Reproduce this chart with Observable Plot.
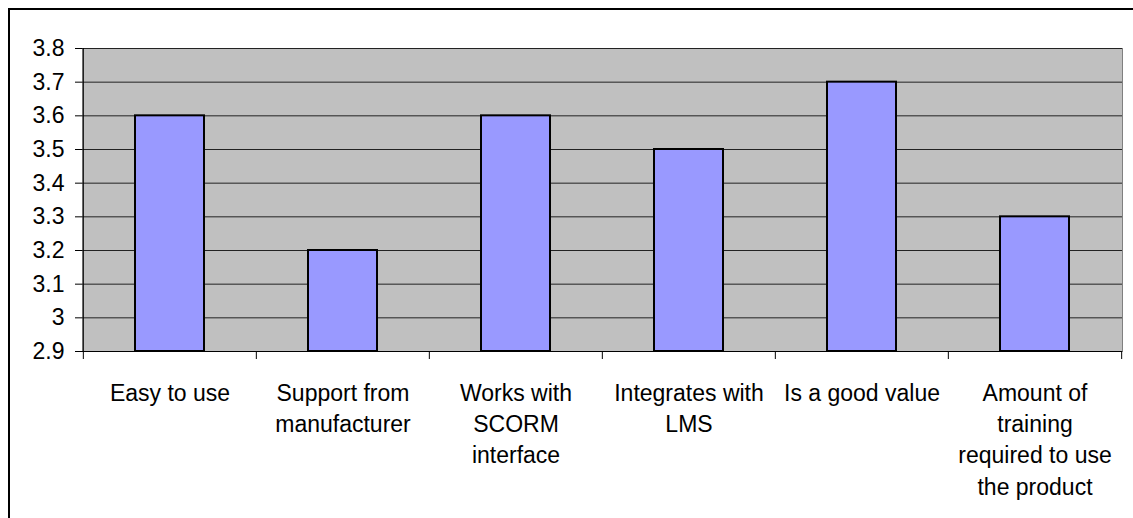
<!DOCTYPE html>
<html>
<head>
<meta charset="utf-8">
<script src="https://cdn.jsdelivr.net/npm/d3@7"></script>
<script src="https://cdn.jsdelivr.net/npm/@observablehq/plot@0.6"></script>
<style>
  html, body { margin: 0; padding: 0; background: #fff; }
  #wrap { position: relative; width: 1133px; height: 518px; overflow: hidden; }
  #border { position: absolute; left: 8px; top: 8px; right: -20px; bottom: -20px;
            border-left: 2px solid #000; border-top: 2px solid #000; pointer-events: none; }
  #chart svg { display: block; }
</style>
</head>
<body>
<div id="wrap">
  <div id="chart"></div>
  <div id="border"></div>
</div>
<script>
// Survey ratings per product attribute
const categories = [
  "Easy to use",
  "Support from manufacturer",
  "Works with SCORM interface",
  "Integrates with LMS",
  "Is a good value",
  "Amount of training required to use the product"
];
const categoryLabels = [
  "Easy to use",
  "Support from\nmanufacturer",
  "Works with\nSCORM\ninterface",
  "Integrates with\nLMS",
  "Is a good value",
  "Amount of\ntraining\nrequired to use\nthe product"
];
const scores = [3.6, 3.2, 3.6, 3.5, 3.7, 3.3];
const yTicks = [2.9, 3, 3.1, 3.2, 3.3, 3.4, 3.5, 3.6, 3.7, 3.8];

const data = categories.map((c, i) => ({category: c, score: scores[i]}));

const width = 1133, height = 518;
const margin = {left: 82, right: 11, top: 48, bottom: 167};
const step = (width - margin.left - margin.right) / categories.length;
const font = "'Liberation Sans', Arial, Helvetica, sans-serif";
const labelOf = c => categoryLabels[categories.indexOf(c)];

const chart = Plot.plot({
  width, height,
  marginLeft: margin.left, marginRight: margin.right,
  marginTop: margin.top, marginBottom: margin.bottom,
  style: {background: "transparent", fontFamily: font, color: "#000"},
  x: {domain: categories, paddingInner: 0.6, paddingOuter: 0.3, label: null},
  y: {domain: [yTicks[0], yTicks[yTicks.length - 1]], label: null},
  marks: [
    Plot.frame({fill: "#c0c0c0", stroke: "#808080"}),
    Plot.gridY({ticks: yTicks, stroke: "#222", strokeOpacity: 1}),
    Plot.barY(data, {x: "category", y1: yTicks[0], y2: "score",
      fill: "#9999ff", stroke: "#000", strokeWidth: 2}),
    // axis lines
    Plot.ruleY([yTicks[0]], {stroke: "#000"}),
    Plot.ruleX([categories[0]], {dx: -step / 2, stroke: "#000"}),
    // y axis
    Plot.axisY({ticks: yTicks, tickSize: 7, tickPadding: 11, fontSize: 23,
      tickFormat: d => String(d), label: null}),
    // category boundary ticks
    Plot.axisX({ticks: categories, tickSize: 8, dx: -step / 2,
      tickFormat: () => "", label: null}),
    Plot.axisX({ticks: [categories[categories.length - 1]], tickSize: 8, dx: step / 2,
      tickFormat: () => "", label: null}),
    // category labels
    Plot.axisX({ticks: categories, tickSize: 0, tickPadding: 27, fontSize: 23,
      lineHeight: 1.36, tickFormat: labelOf, label: null, letterSpacing: "1px"})
  ]
});
document.getElementById("chart").append(chart);
</script>
</body>
</html>
